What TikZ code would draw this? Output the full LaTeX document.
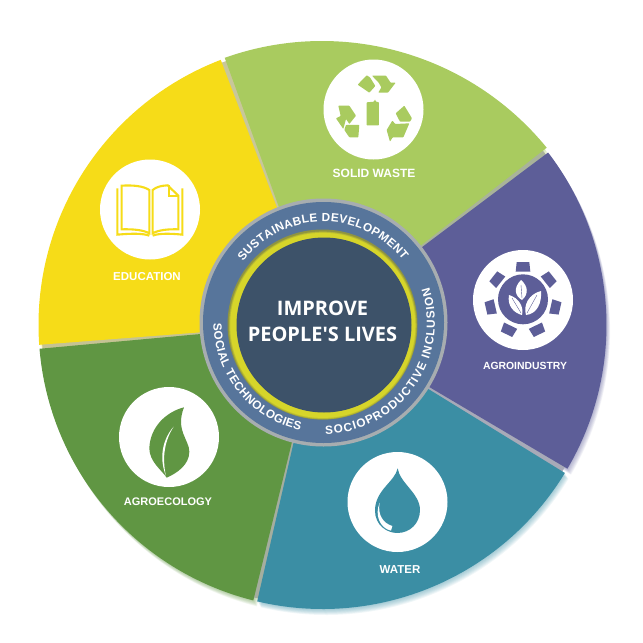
\documentclass[tikz,border=0pt]{standalone}
\usepackage{fontspec}
\setmainfont{Liberation Sans}
\newfontfamily\headfont{Open Sans}
\usetikzlibrary{decorations.text}

\definecolor{wasteGreen}{HTML}{A9CB5F}
\definecolor{agroPurple}{HTML}{5D5E98}
\definecolor{waterTeal}{HTML}{3B8EA4}
\definecolor{ecoGreen}{HTML}{609643}
\definecolor{eduYellow}{HTML}{F6DC18}
\definecolor{ringBlue}{HTML}{57759B}
\definecolor{coreBlue}{HTML}{3D5269}
\definecolor{rimGrey}{HTML}{A7ADB0}
\definecolor{bandYellow}{HTML}{D6D52A}
\definecolor{bandOlive}{HTML}{8F9440}

\newcommand{\petal}[4][]{%
  \fill[#2,#1] (321,323) -- ([shift={(#3:284)}]322.5,325) arc[start angle=#3,end angle=#4,radius=284] -- cycle;}
\newcommand{\petalglow}[3]{%
  \foreach \d in {1,...,8}
    \petal[opacity=.07,shift={(\d*.45,\d*.75)}]{#1}{#2}{#3};}
\newcommand{\arclabel}[4]{%
  \path[decorate,decoration={text along path,text align={fit to path},
    text={|\bfseries\fontsize{11.8}{12}\selectfont\color{white}|#4}}]
    ([shift={(#2:#1)}]323.5,322.5) arc[start angle=#2,end angle=#3,radius=#1];}

\begin{document}
\begin{tikzpicture}[x=1pt,y=-1pt,
  topic/.style = {text=white, font=\bfseries\fontsize{#1}{12}\selectfont, inner sep=0pt},
  topic/.default = 11.5,
  badge/.style = {circle, fill=white, minimum size=100pt, inner sep=0pt},
  core/.style = {text=white, align=center, inner sep=0pt,
    font=\headfont\bfseries\fontsize{20}{26}\selectfont}]
  \useasboundingbox (0,0) rectangle (643,643);

  \petalglow{wasteGreen}{250}{321.6}
  \petalglow{agroPurple}{322.6}{390.4}
  \petalglow{waterTeal}{31.4}{103.3}
  \petalglow{ecoGreen}{104.1}{175.2}
  \petalglow{eduYellow}{176}{249}

  \foreach \a/\c in {249.5/C8C79A, 322/A9B39A, 30.9/A8AAB8, 103.7/A5AE9F, 175.6/C5C394} {
    \definecolor{gapTint}{HTML}{\c}
    \draw[gapTint,line width=6pt] (321,323) -- ([shift={(\a:281)}]322.5,325);
  }
  \fill[wasteGreen] (321,323) -- ([shift={(250.4:290)}]322,331) arc[start angle=250.4,end angle=320.8,radius=290] -- cycle;
  \petal{agroPurple}{322.6}{390.4}
  \petal{waterTeal}{31.4}{103.3}
  \petal{ecoGreen}{104.1}{175.2}
  \petal{eduYellow}{176}{249}

  \node[badge] (wasteBadge) at (373.5,109.5) {};
  \node[badge] (agroBadge) at (523,300) {};
  \node[badge] (waterBadge) at (397.5,502) {};
  \node[badge] (ecoBadge) at (169,437) {};
  \node[badge] (eduBadge) at (150,209.5) {};

  \node[topic=12] (wasteLabel) at (374,173) {SOLID WASTE};
  \node[topic=10.4] (agroLabel) at (525,366) {AGROINDUSTRY};
  \node[topic] (waterLabel) at (400,570) {WATER};
  \node[topic=11] (ecoLabel) at (168,502) {AGROECOLOGY};
  \node[topic] (eduLabel) at (147,277) {EDUCATION};

  % recycling arrows
  \begin{scope}[shift={(310,50)},x=.3333pt,y=-.3333pt,fill=wasteGreen,rounded corners=.6pt]
    \fill (143,104) -- (170,76) -- (180,82) -- (196,108) -- (178,128) -- cycle;
    \fill (186,77) -- (228,77) -- (242,98) -- (257,98) -- (234,128) -- (205,128) -- (214,112) -- (206,98) -- cycle;
    \fill (257,190) -- (283,167) -- (306,205) -- (300,215) -- (270,215) -- cycle;
    \fill (298,220) -- (280,262) -- (248,262) -- (240,275) -- (230,240) -- (247,212) -- (256,222) -- cycle;
    \fill (85,167) -- (118,167) -- (138,197) -- (118,222) -- (108,207) -- (100,237) -- (78,205) -- (92,198) -- cycle;
    \fill (108,225) -- (148,225) -- (145,262) -- (118,262) -- (103,240) -- cycle;
    \fill (170,157) -- (192,155) -- (195,148) -- (198,155) -- (207,157) -- (207,226) -- (170,226) -- cycle;
  \end{scope}

  % gear with leaves
  \begin{scope}[shift={(523,300)}]
    \fill[agroPurple] (0,-.7) circle[radius=25];
    \foreach \a in {0,...,6}
      \fill[agroPurple,rotate=\a*51.43] (-6.3,-38) -- (6.3,-38) -- (7.3,-28.5) -- (-7.3,-28.5) -- cycle;
    \fill[white] (-2,-20) .. controls (-10,-12) and (-8,-4) .. (-1,0) .. controls (6,-6) and (5,-14) .. (-2,-20) -- cycle;
    \fill[white] (-14,-5) .. controls (-16,6) and (-9,13) .. (-1,15) .. controls (1,7) and (-4,-2) .. (-14,-5) -- cycle;
    \fill[white] (18,-9) .. controls (6,-6) and (0,5) .. (3,15) .. controls (14,14) and (19,3) .. (18,-9) -- cycle;
    \draw[agroPurple,line width=.4pt] (-2,-15) -- (-1,-2) (-11,-2) -- (-2,13) (14,-5) -- (4,13);
  \end{scope}

  % open book
  \begin{scope}[shift={(90,150)},x=.3333pt,y=-.3333pt,draw=eduYellow,line width=2.1pt,line join=miter]
    \draw (95,107) .. controls (130,105) and (160,108) .. (178,120) -- (178,250) .. controls (160,240) and (130,237) .. (95,238) -- cycle;
    \draw (188,120) .. controls (200,110) and (215,107) .. (233,106) -- (265,137) -- (265,238) .. controls (235,237) and (205,240) .. (188,250) -- cycle;
    \draw (236,106) -- (236,137) -- (265,137);
    \draw (82,115) -- (82,254) .. controls (125,250) and (160,250) .. (178,257);
    \draw (277,115) -- (277,254) .. controls (240,250) and (205,250) .. (188,257);
  \end{scope}

  % leaf
  \begin{scope}[shift={(110,380)},x=.3333pt,y=-.3333pt]
    \fill[ecoGreen] (222,82) .. controls (170,95) and (120,140) .. (118,205) .. controls (118,245) and (155,270) .. (170,293)
      .. controls (200,280) and (238,255) .. (238,215) .. controls (238,180) and (195,150) .. (222,82) -- cycle;
    \fill[white] (191,140) .. controls (160,175) and (145,230) .. (168,288) .. controls (155,230) and (165,180) .. (191,140) -- cycle;
  \end{scope}

  % drop
  \begin{scope}[shift={(340,440)},x=.3333pt,y=-.3333pt]
    \fill[waterTeal] (173,85) .. controls (165,125) and (105,150) .. (105,212) .. controls (105,255) and (140,279) .. (172,279)
      .. controls (210,279) and (240,250) .. (240,210) .. controls (240,160) and (180,130) .. (173,85) -- cycle;
    \fill[white] (119,188) .. controls (103,225) and (120,265) .. (153,272) -- (157,258) .. controls (130,250) and (112,225) .. (119,188) -- cycle;
  \end{scope}

  \fill[rimGrey] (323.5,322.5) circle[radius=124];
  \fill[ringBlue] (323.5,322.5) circle[radius=120.5];
  \fill[bandOlive] (322.5,324.5) circle[radius=95];
  \foreach \r/\k in {94/35, 93.5/55, 93/75, 92.5/100}
    \fill[bandYellow!\k!bandOlive] (322.8,325.4) circle[radius=\r];
  \fill[coreBlue] (324,325) circle[radius=87.5];
  \node[core] (coreText) at (322.5,321) {IMPROVE\\PEOPLE'S LIVES};

  \arclabel{100.7}{217}{322}{SUSTAINABLE DEVELOPMENT}
  \arclabel{111.5}{89}{-18.5}{SOCIOPRODUCTIVE INCLUSION}
  \arclabel{110}{179.5}{102.2}{SOCIAL TECHNOLOGIES}
\end{tikzpicture}
\end{document}
